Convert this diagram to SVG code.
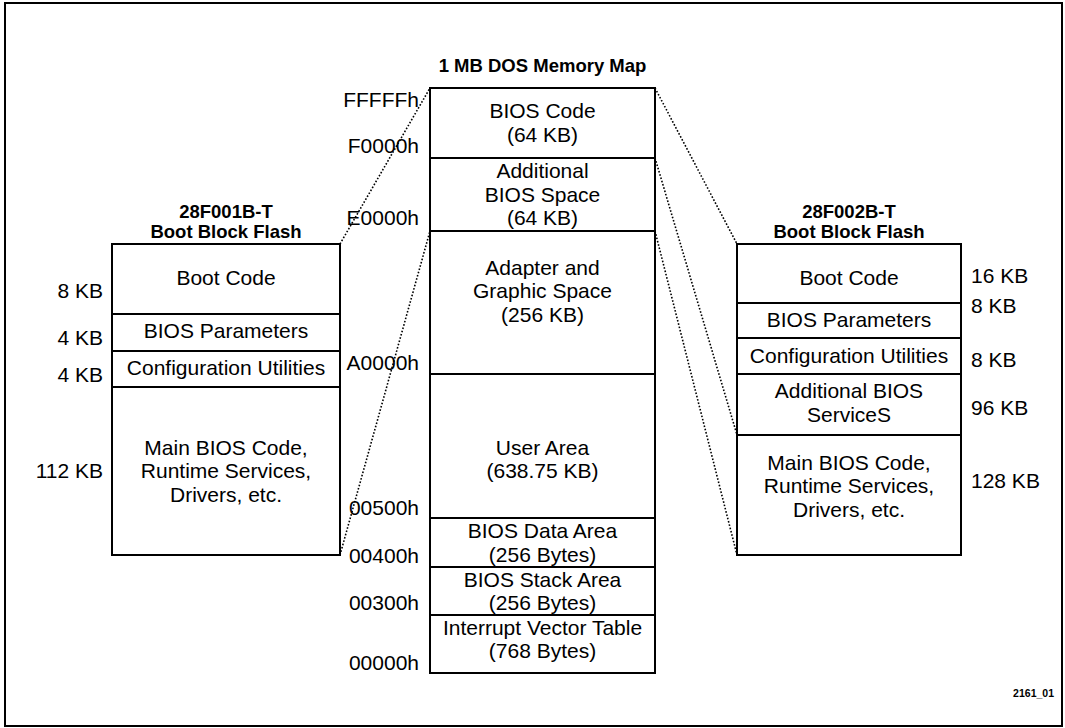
<svg xmlns="http://www.w3.org/2000/svg" width="1065" height="728" viewBox="0 0 1065 728">
<style>
text{font-family:"Liberation Sans",Arial,sans-serif;fill:#000}
.t{font-size:21px;text-anchor:middle}
.r{font-size:21px;text-anchor:end}
.l{font-size:21px;text-anchor:start}
.h{font-size:18.5px;font-weight:bold;text-anchor:middle}
.box{fill:#fff;stroke:#000;stroke-width:2}
.div{stroke:#000;stroke-width:2}
.dot{stroke:#000;stroke-width:1.6;stroke-dasharray:1.6 1.8;fill:none}
</style>
<rect x="5" y="3" width="1057" height="723" fill="#fff" stroke="#000" stroke-width="2"/>

<g id="connectors">
<line class="dot" x1="340" y1="244" x2="430" y2="88"/>
<line class="dot" x1="340" y1="555" x2="430" y2="231"/>
<line class="dot" x1="655" y1="88" x2="737" y2="244"/>
<line class="dot" x1="655" y1="158" x2="737" y2="435"/>
<line class="dot" x1="655" y1="231" x2="737" y2="555"/>
</g>

<g id="memory-map">
<text class="h" x="542.5" y="72">1 MB DOS Memory Map</text>
<rect class="box" x="430" y="88" width="225" height="585"/>
<line class="div" x1="430" y1="158" x2="655" y2="158"/>
<line class="div" x1="430" y1="231" x2="655" y2="231"/>
<line class="div" x1="430" y1="374" x2="655" y2="374"/>
<line class="div" x1="430" y1="518" x2="655" y2="518"/>
<line class="div" x1="430" y1="567" x2="655" y2="567"/>
<line class="div" x1="430" y1="615" x2="655" y2="615"/>
<text class="t" x="542.5" y="118">BIOS Code</text>
<text class="t" x="542.5" y="142">(64 KB)</text>
<text class="t" x="542.5" y="178">Additional</text>
<text class="t" x="542.5" y="202">BIOS Space</text>
<text class="t" x="542.5" y="225">(64 KB)</text>
<text class="t" x="542.5" y="275">Adapter and</text>
<text class="t" x="542.5" y="298">Graphic Space</text>
<text class="t" x="542.5" y="322">(256 KB)</text>
<text class="t" x="542.5" y="455">User Area</text>
<text class="t" x="542.5" y="478">(638.75 KB)</text>
<text class="t" x="542.5" y="538">BIOS Data Area</text>
<text class="t" x="542.5" y="562">(256 Bytes)</text>
<text class="t" x="542.5" y="587">BIOS Stack Area</text>
<text class="t" x="542.5" y="610">(256 Bytes)</text>
<text class="t" x="542.5" y="635">Interrupt Vector Table</text>
<text class="t" x="542.5" y="658">(768 Bytes)</text>
<text class="r" x="419" y="107">FFFFFh</text>
<text class="r" x="419" y="153">F0000h</text>
<text class="r" x="419" y="225">E0000h</text>
<text class="r" x="419" y="370">A0000h</text>
<text class="r" x="419" y="515">00500h</text>
<text class="r" x="419" y="563">00400h</text>
<text class="r" x="419" y="610">00300h</text>
<text class="r" x="419" y="670">00000h</text>
</g>

<g id="flash-001">
<text class="h" x="226" y="218">28F001B-T</text>
<text class="h" x="226" y="238">Boot Block Flash</text>
<rect class="box" x="112" y="244" width="228" height="311"/>
<line class="div" x1="112" y1="314" x2="340" y2="314"/>
<line class="div" x1="112" y1="351" x2="340" y2="351"/>
<line class="div" x1="112" y1="387" x2="340" y2="387"/>
<text class="t" x="226" y="285">Boot Code</text>
<text class="t" x="226" y="338">BIOS Parameters</text>
<text class="t" x="226" y="375">Configuration Utilities</text>
<text class="t" x="226" y="455">Main BIOS Code,</text>
<text class="t" x="226" y="478">Runtime Services,</text>
<text class="t" x="226" y="502">Drivers, etc.</text>
<text class="r" x="103" y="298">8 KB</text>
<text class="r" x="103" y="345">4 KB</text>
<text class="r" x="103" y="382">4 KB</text>
<text class="r" x="103" y="478">112 KB</text>
</g>

<g id="flash-002">
<text class="h" x="849" y="218">28F002B-T</text>
<text class="h" x="849" y="238">Boot Block Flash</text>
<rect class="box" x="737" y="244" width="224" height="311"/>
<line class="div" x1="737" y1="303" x2="961" y2="303"/>
<line class="div" x1="737" y1="338" x2="961" y2="338"/>
<line class="div" x1="737" y1="374" x2="961" y2="374"/>
<line class="div" x1="737" y1="435" x2="961" y2="435"/>
<text class="t" x="849" y="285">Boot Code</text>
<text class="t" x="849" y="327">BIOS Parameters</text>
<text class="t" x="849" y="363">Configuration Utilities</text>
<text class="t" x="849" y="398">Additional BIOS</text>
<text class="t" x="849" y="422">ServiceS</text>
<text class="t" x="849" y="470">Main BIOS Code,</text>
<text class="t" x="849" y="493">Runtime Services,</text>
<text class="t" x="849" y="517">Drivers, etc.</text>
<text class="l" x="971" y="283">16 KB</text>
<text class="l" x="971" y="313">8 KB</text>
<text class="l" x="971" y="367">8 KB</text>
<text class="l" x="971" y="415">96 KB</text>
<text class="l" x="971" y="488">128 KB</text>
</g>

<text x="1054" y="697" style="font-size:10.5px;font-weight:bold;text-anchor:end">2161_01</text>
</svg>
